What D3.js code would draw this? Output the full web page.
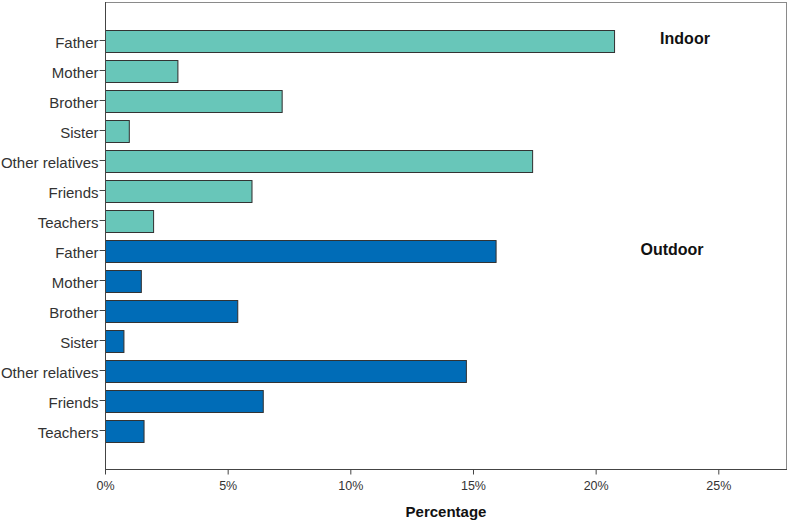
<!DOCTYPE html>
<html>
<head>
<meta charset="utf-8">
<script src="https://cdn.jsdelivr.net/npm/d3@7"></script>
<style>
  body { margin: 0; background: #fff; }
  svg text { font-family: "Liberation Sans", Arial, sans-serif; }
</style>
</head>
<body>
<div id="chart"></div>
<script>
const persons = ['Father', 'Mother', 'Brother', 'Sister', 'Other relatives', 'Friends', 'Teachers'];
const groups = ['Indoor', 'Outdoor'];
const indoorValues = [20.75, 2.95, 7.2, 0.97, 17.41, 5.97, 1.96];
const outdoorValues = [15.92, 1.46, 5.39, 0.75, 14.71, 6.43, 1.57];
const xTicks = [0, 5, 10, 15, 20, 25];

const width = 790, height = 522;
const margin = { top: 2, right: 3, bottom: 53, left: 105 };
const colors = { Indoor: '#68c6b9', Outdoor: '#006cb7' };

const rows = [];
groups.forEach(g => {
    const vals = g === 'Indoor' ? indoorValues : outdoorValues;
    persons.forEach((p, i) => rows.push({ key: g + '-' + i, group: g, label: p, value: vals[i] }));
});

const svg = d3.select('#chart').append('svg')
    .attr('width', width)
    .attr('height', height);

const x = d3.scaleLinear()
    .domain([0, 27.8])
    .range([margin.left, width - margin.right]);

const y = d3.scaleBand()
    .domain(rows.map(d => d.key))
    .range([margin.top, height - margin.bottom])
    .paddingInner(0.27)
    .paddingOuter(0.918);

// frame
svg.append('rect')
    .attr('x', x(0) + 0.5)
    .attr('y', margin.top + 0.5)
    .attr('width', x.range()[1] - x(0) - 1)
    .attr('height', height - margin.bottom - margin.top)
    .attr('fill', 'none')
    .attr('stroke', '#8a8a8a')
    .attr('stroke-width', 1);

// bar shadows
svg.append('g')
    .selectAll('rect')
    .data(rows)
    .join('rect')
    .attr('x', x(0) + 1)
    .attr('y', d => y(d.key) + 1)
    .attr('width', d => x(d.value) - x(0))
    .attr('height', y.bandwidth())
    .attr('fill', '#d4d4d4');

svg.append('g')
    .selectAll('rect')
    .data(rows)
    .join('rect')
    .attr('x', x(0) + 0.5)
    .attr('y', d => Math.round(y(d.key)) + 0.5)
    .attr('width', d => x(d.value) - x(0))
    .attr('height', Math.round(y.bandwidth()))
    .attr('fill', d => colors[d.group])
    .attr('stroke', '#333')
    .attr('stroke-width', 1);

// y axis
const yAxis = d3.axisLeft(y)
    .tickSize(6)
    .tickPadding(1)
    .tickFormat(k => rows.find(r => r.key === k).label);

svg.append('g')
    .attr('transform', `translate(${x(0) + 0.5},0)`)
    .call(yAxis)
    .call(g => g.select('.domain').attr('stroke', '#444').attr('d', `M0,${margin.top}V${height - margin.bottom}`))
    .call(g => g.selectAll('.tick line').attr('stroke', '#444'))
    .call(g => g.selectAll('.tick text').attr('fill', '#333').attr('dy', '0.5em').style('font-size', '15px'));

// x axis
const xAxis = d3.axisBottom(x)
    .tickValues(xTicks)
    .tickSize(5)
    .tickPadding(7)
    .tickFormat(d => d + '%');

svg.append('g')
    .attr('transform', `translate(0,${height - margin.bottom + 0.5})`)
    .call(xAxis)
    .call(g => g.select('.domain').attr('stroke', '#444').attr('d', `M${x(0)},0H${x.range()[1]}`))
    .call(g => g.selectAll('.tick line').attr('stroke', '#444'))
    .call(g => g.selectAll('.tick text').attr('fill', '#333').style('font-size', '12.5px'));

svg.append('text')
    .attr('x', 446)
    .attr('y', 517)
    .attr('text-anchor', 'middle')
    .style('font-size', '15px')
    .style('font-weight', 'bold')
    .attr('fill', '#111')
    .text('Percentage');

// group labels
const labelPos = { Indoor: 685, Outdoor: 672 };
groups.forEach(g => {
    svg.append('text')
        .attr('x', labelPos[g])
        .attr('y', y(g + '-0') + y.bandwidth() / 2 + 4)
        .attr('text-anchor', 'middle')
        .style('font-size', '16px')
        .style('font-weight', 'bold')
        .attr('fill', '#111')
        .text(g);
});
</script>
</body>
</html>
